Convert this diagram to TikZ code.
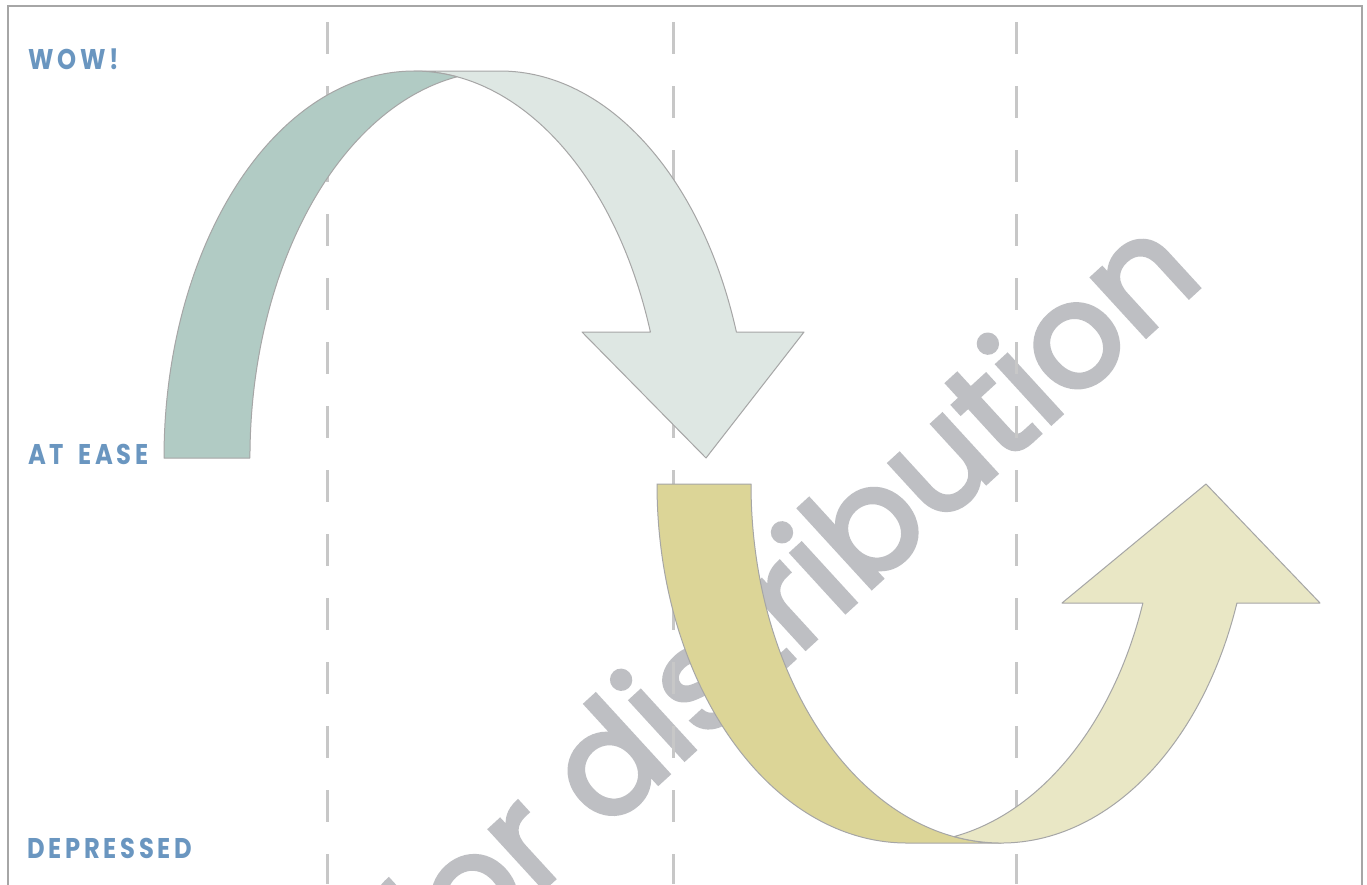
\documentclass[tikz,border=0pt]{standalone}
\usepackage{fontspec}
\newfontfamily\levelfont[LetterSpace=13, FakeStretch=0.85, WordSpace=1.6]{Poppins}
\newfontfamily\markfont[FakeBold=3]{Poppins}
\usetikzlibrary{positioning}
\definecolor{myblue}{RGB}{106,150,192}
\definecolor{mygreen}{RGB}{177,203,196}
\definecolor{mylightgreen}{RGB}{222,231,227}
\definecolor{myyellow}{RGB}{220,213,151}
\definecolor{mylightyellow}{RGB}{233,231,197}
\definecolor{mygrey}{RGB}{190,191,195}
\definecolor{myline}{RGB}{166,166,166}

\begin{document}
\begin{tikzpicture}[
		x=1pt, y=-1pt,
		level/.style={font=\levelfont\bfseries\fontsize{28.5}{28.5}\selectfont, text=myblue, inner sep=0pt, anchor=base west},
		guide/.style={draw=black!22, line width=3pt, dash pattern=on 32pt off 32pt},
		band/.style={draw=myline, line width=1pt, line join=round}
		]
		
		\clip (0,0) rectangle (1367,884);
		\fill[white] (0,0) rectangle (1367,884);
		\draw[myline, line width=1.5pt] (8,6) rectangle (1362,900);
		
		% Watermark
		\node[font=\markfont\fontsize{145}{145}\selectfont, text=mygrey, rotate=42.5, anchor=base west, inner sep=0pt] (mark) at (432,990.5) {for distribution};
		
		% Guides
		\foreach \x in {327,673,1016}
		\draw[guide] (\x,22) -- (\x,884);
		
		% Levels
		\node[level] (wow) at (28,69) {WOW!};
		\node[level] (atease) at (28,464) {AT EASE};
		\node[level] (depressed) at (27,858) {DEPRESSED};
		
		% Top arrow
		\path[band, fill=mylightgreen] (414,71) -- (500,71)
		arc[start angle=270, end angle=341, x radius=250, y radius=387]
		-- (804,332) -- (706,458) -- (582,332) -- (650.4,332)
		arc[start angle=341, end angle=270, x radius=250, y radius=387] -- cycle;
		\path[band, fill=mygreen] (164,458)
		arc[start angle=180, end angle=279.9, x radius=250, y radius=387]
		arc[start angle=260.1, end angle=180, x radius=250, y radius=387] -- cycle;
		
		% Bottom arrow
		\path[band, fill=myyellow] (657,484)
		arc[start angle=180, end angle=90, x radius=250, y radius=359]
		-- (1001,843)
		arc[start angle=90, end angle=180, x radius=250, y radius=359] -- cycle;
		\path[band, fill=mylightyellow] (1142.9,603) -- (1062,603) -- (1206,484) -- (1320,603) -- (1236.9,603)
		arc[start angle=19.36, end angle=100.84, x radius=250, y radius=359]
		arc[start angle=79.16, end angle=19.36, x radius=250, y radius=359] -- cycle;
		
	\end{tikzpicture}
\end{document}
